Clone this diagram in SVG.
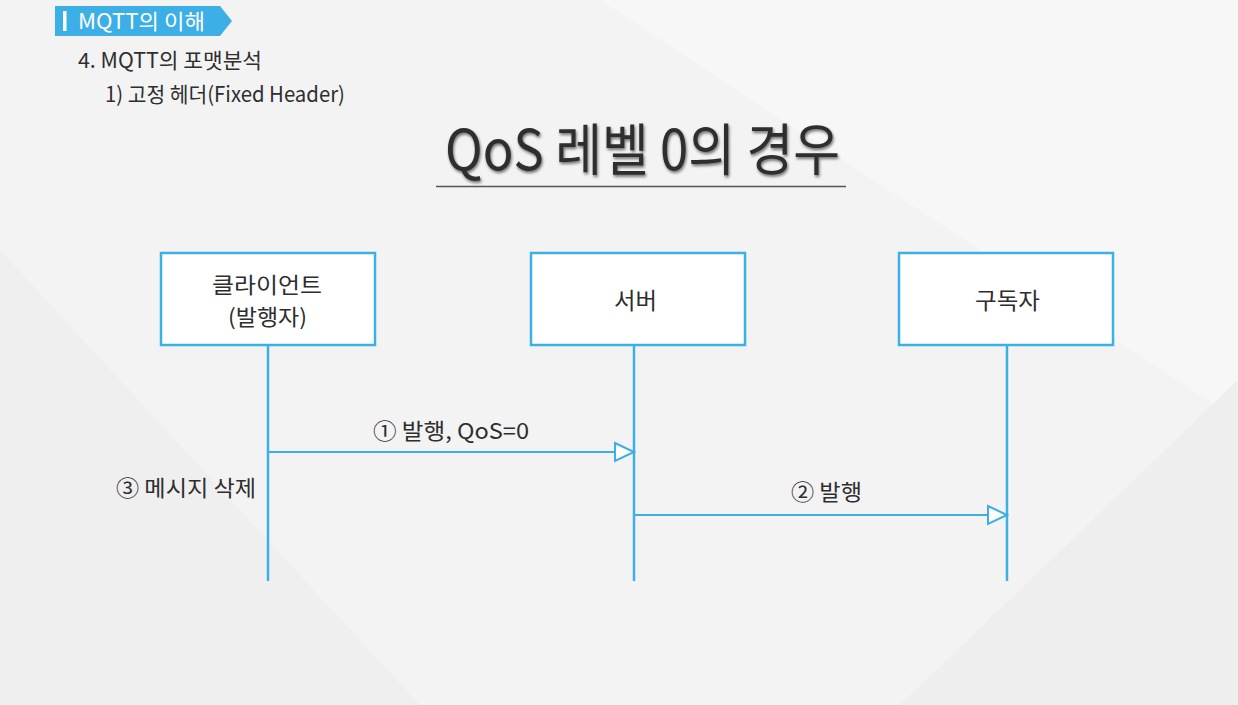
<svg xmlns="http://www.w3.org/2000/svg" width="1238" height="705" viewBox="0 0 1238 705">
<defs>
<style>
.t{font-family:"Noto Sans CJK KR","Noto Sans",sans-serif;fill:#2e2e2e}
.box{fill:#ffffff;stroke:#3cb0e6;stroke-width:2.5}
.line{stroke:#3cb0e6;stroke-width:2.5;fill:none}
.msg{stroke:#3cb0e6;stroke-width:2;fill:none}
</style>
<marker id="tri" markerWidth="24" markerHeight="22" refX="21" refY="11" orient="auto" markerUnits="userSpaceOnUse">
<path d="M2,2 L21,11 L2,20 Z" fill="#ffffff" stroke="#3cb0e6" stroke-width="2"/>
</marker>
<filter id="sh" x="-5%" y="-20%" width="110%" height="140%">
<feGaussianBlur in="SourceAlpha" stdDeviation="1.5"/>
<feOffset dx="1" dy="2" result="b"/>
<feComponentTransfer><feFuncA type="linear" slope="0.55"/></feComponentTransfer>
<feMerge><feMergeNode/><feMergeNode in="SourceGraphic"/></feMerge>
</filter>
</defs>
<rect x="0" y="0" width="1238" height="705" fill="#f3f3f3"/>
<polygon points="600,0 1238,0 1238,420" fill="#f7f7f7"/>
<polygon points="0,250 420,705 0,705" fill="#efefef"/>
<polygon points="900,705 1238,380 1238,705" fill="#eeeeee"/>

<g id="header">
<polygon points="55,6 220,6 232,21 220,36 55,36" fill="#3cb0e6"/>
<rect x="63" y="11" width="3.5" height="20" fill="#ffffff"/>
<text x="78" y="29" font-size="21" textLength="127" lengthAdjust="spacingAndGlyphs" fill="#ffffff" style="font-family:'Noto Sans CJK KR','Noto Sans',sans-serif">MQTT의 이해</text>
<text class="t" x="78" y="68" font-size="21" textLength="184" lengthAdjust="spacingAndGlyphs">4. MQTT의 포맷분석</text>
<text class="t" x="105" y="102" font-size="21" textLength="240" lengthAdjust="spacingAndGlyphs">1) 고정 헤더(Fixed Header)</text>
</g>

<g id="title">
<text class="t" x="445" y="170" font-size="56" textLength="395" lengthAdjust="spacingAndGlyphs" filter="url(#sh)">QoS 레벨 0의 경우</text>
<line x1="436" y1="186.5" x2="846" y2="186.5" stroke="#555555" stroke-width="1.5"/>
</g>

<g id="connectors">
<line class="line" x1="268" y1="345" x2="268" y2="581"/>
<line class="line" x1="634" y1="345" x2="634" y2="581"/>
<line class="line" x1="1007" y1="345" x2="1007" y2="581"/>
<line class="msg" x1="268" y1="452" x2="634" y2="452" marker-end="url(#tri)"/>
<line class="msg" x1="634" y1="515" x2="1007" y2="515" marker-end="url(#tri)"/>
<text class="t" x="373" y="439" font-size="22" textLength="156" lengthAdjust="spacingAndGlyphs">① 발행, QoS=0</text>
<text class="t" x="791" y="500" font-size="22" textLength="71" lengthAdjust="spacingAndGlyphs">② 발행</text>
</g>

<g id="client">
<rect class="box" x="161" y="253" width="214" height="92"/>
<text class="t" x="212" y="293" font-size="22" textLength="110" lengthAdjust="spacingAndGlyphs">클라이언트</text>
<text class="t" x="228" y="325" font-size="22" textLength="79" lengthAdjust="spacingAndGlyphs">(발행자)</text>
</g>
<g id="server">
<rect class="box" x="531" y="253" width="214" height="92"/>
<text class="t" x="614" y="309" font-size="23" textLength="43" lengthAdjust="spacingAndGlyphs">서버</text>
</g>
<g id="subscriber">
<rect class="box" x="899" y="253" width="214" height="92"/>
<text class="t" x="975" y="309" font-size="23" textLength="65" lengthAdjust="spacingAndGlyphs">구독자</text>
</g>
<g id="note">
<text class="t" x="116" y="496" font-size="22" textLength="140" lengthAdjust="spacingAndGlyphs">③ 메시지 삭제</text>
</g>
</svg>
